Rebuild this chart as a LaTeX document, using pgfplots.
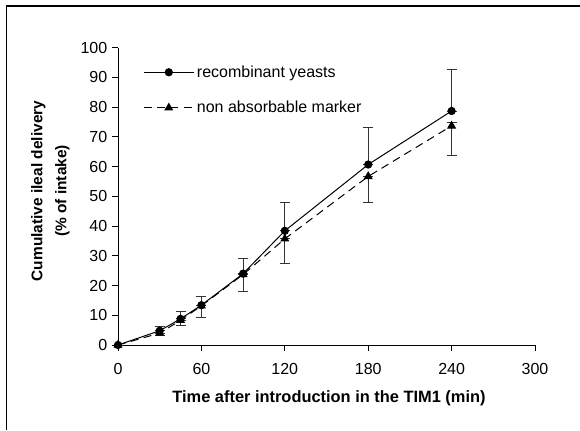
\documentclass[border=0pt]{standalone}
\usepackage{pgfplots}
\pgfplotsset{compat=1.18}
\usepackage{fontspec}
\setmainfont{Liberation Sans}
\begin{document}
\begin{tikzpicture}
\useasboundingbox (0,0) rectangle (435pt,322.5pt);
\draw[line width=0.9pt] (4.8pt,0pt) -- (4.8pt,318pt) -- (435pt,318pt);
\begin{axis}[
  at={(88.5pt,63.75pt)}, anchor=south west,
  scale only axis, width=312.75pt, height=223pt,
  xmin=0, xmax=300, ymin=0, ymax=100,
  axis x line=bottom, axis y line=left,
  axis line style={-, line width=0.75pt},
  tick style={line width=0.75pt, black},
  tick align=outside,
  major tick length=4.5pt,
  xtick={0,60,...,300}, ytick={0,10,...,100},
  /pgf/number format/assume math mode=true,
  tick label style={font=\fontsize{12}{14}\selectfont},
  xticklabel style={yshift=-6pt},
  xlabel={\textbf{Time after introduction in the TIM1 (min)}},
  xlabel style={at={(rel axis cs:0.506,-0.178)}, anchor=center, font=\fontsize{12.3}{14}\selectfont},
  ylabel={\textbf{Cumulative ileal delivery}\\\textbf{(\% of intake)}},
  ylabel style={at={(rel axis cs:-0.162,0.518)}, anchor=center, rotate=0, align=center, font=\fontsize{11.6}{18}\selectfont},
  legend style={at={(rel axis cs:0.06,0.95)}, anchor=north west, draw=none, fill=none,
    font=\fontsize{12}{14}\selectfont, row sep=12.5pt, inner sep=0pt},
  legend cell align=left,
  legend image code/.code={\draw[mark repeat=2,mark phase=2,#1] plot coordinates {(0pt,0pt) (18.75pt,0pt) (37.5pt,0pt)};},
]
\addplot[black, line width=0.75pt, mark=*, mark size=2.7pt, mark options={solid},
  error bars/.cd, y dir=both, y explicit,
  error bar style={black!80, line width=0.75pt, solid},
  error mark options={rotate=90, mark size=3.75pt, black!80, line width=0.75pt}]
coordinates {
  (0,0) += (0,0) -= (0,0)
  (30,4.8) += (0,1.4) -= (0,0)
  (45,8.8) += (0,2.4) -= (0,0)
  (60,13.4) += (0,2.9) -= (0,0)
  (90,24.0) += (0,5.2) -= (0,0)
  (120,38.4) += (0,9.6) -= (0,0)
  (180,60.7) += (0,12.4) -= (0,0)
  (240,78.7) += (0,13.8) -= (0,0)
};
\addlegendentry{recombinant yeasts}
\addplot[black, line width=0.75pt, dash pattern=on 6pt off 4pt, mark=triangle*, mark size=3.2pt, mark options={solid},
  error bars/.cd, y dir=both, y explicit,
  error bar style={black!80, line width=0.75pt, solid},
  error mark options={rotate=90, mark size=3.75pt, black!80, line width=0.75pt}]
coordinates {
  (0,0) += (0,0) -= (0,0)
  (30,4.0) += (0,0) -= (0,0.7)
  (45,8.3) += (0,0) -= (0,1.7)
  (60,13.2) += (0,0) -= (0,4.0)
  (90,23.7) += (0,0) -= (0,5.7)
  (120,35.7) += (0,0) -= (0,8.2)
  (180,56.7) += (0,0) -= (0,8.7)
  (240,73.7) += (0,1.0) -= (0,9.9)
};
\addlegendentry{non absorbable marker}
\end{axis}
\end{tikzpicture}
\end{document}
